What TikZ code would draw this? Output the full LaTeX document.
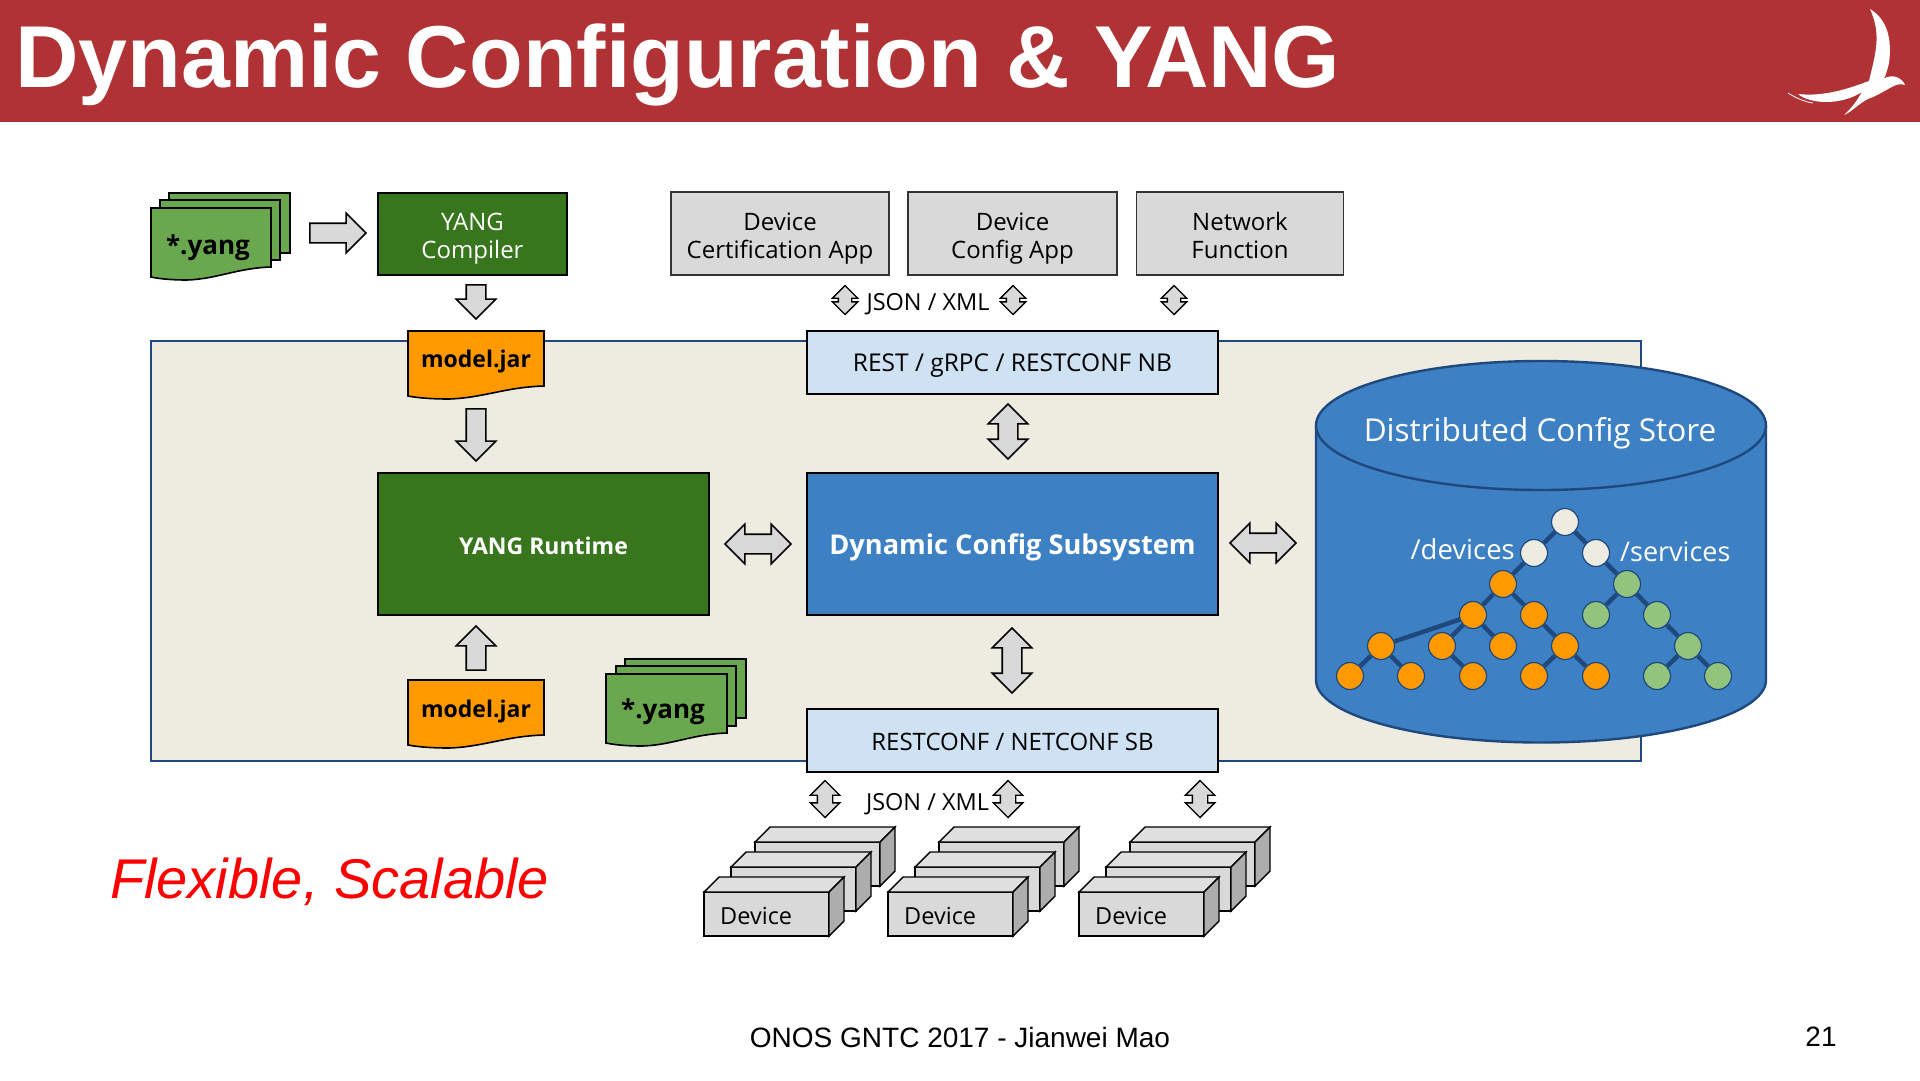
\documentclass[tikz,border=0pt]{standalone}
\usepackage{fontspec}
\setmainfont{Open Sans}
\newfontfamily\slidefont{Liberation Sans}
\usetikzlibrary{shapes.arrows}
\definecolor{headerred}{HTML}{B13234}
\definecolor{darkgreen}{HTML}{38761D}
\definecolor{filegreen}{HTML}{6AA84F}
\definecolor{leafgreen}{HTML}{93C47D}
\definecolor{jarorange}{HTML}{FF9900}
\definecolor{coreblue}{HTML}{3D80C4}
\definecolor{paleblue}{HTML}{CFE2F3}
\definecolor{beige}{HTML}{EEECE1}
\definecolor{navy}{HTML}{1F497D}
\definecolor{boxgray}{HTML}{D9D9D9}

\begin{document}
\begin{tikzpicture}[x=1pt,y=-1pt,
    sheet/.style={draw=black,line width=1.6pt,fill=filegreen},
    box/.style={draw=black,line width=1.4pt,inner sep=0pt,align=center,font=\fontsize{24}{28}\selectfont},
    filetext/.style={font=\fontsize{26}{32}\selectfont\bfseries},
    jartext/.style={font=\fontsize{23}{30}\selectfont\bfseries},
    plain/.style={font=\fontsize{23.5}{28}\selectfont},
    onearrow/.style={draw=black,fill=boxgray,line width=1.6pt,single arrow,inner xsep=0pt,inner ysep=9pt,
        single arrow head extend=10pt,minimum width=38pt},
    twoarrow/.style={draw=black,fill=boxgray,line width=1.6pt,double arrow,inner xsep=0pt,inner ysep=9pt,
        double arrow head extend=10pt,minimum width=38pt},
    tinyarrow/.style={draw=black,fill=boxgray,line width=1.4pt,double arrow,inner xsep=0pt,inner ysep=7pt,
        double arrow head extend=7pt,minimum width=28pt,minimum height=37pt},
    smallarrow/.style={tinyarrow,inner ysep=6pt,double arrow head extend=6pt,minimum width=23pt,minimum height=29pt},
    leaf/.style={circle,draw=navy,line width=1.2pt,inner sep=0pt,minimum size=27pt},
    pics/wavedoc/.style n args={2}{code={
        \draw[line width=1.6pt,pic actions] (0,0) -- (#1,0) -- (#1,#2)
            .. controls (0.72*#1,#2+1) and (0.55*#1,#2+12) .. (0.3*#1,#2+13)
            .. controls (0.18*#1,#2+13) and (0.08*#1,#2+12) .. (0,#2+10) -- cycle;
    }},
    pics/devicebox/.style={code={
        \draw[line width=1.4pt,fill=boxgray] (0,0) rectangle (125,44);
        \draw[line width=1.4pt,fill=boxgray!85!white] (0,0) -- (15,-15) -- (140,-15) -- (125,0) -- cycle;
        \draw[line width=1.4pt,fill=black!32] (125,0) -- (140,-15) -- (140,29) -- (125,44) -- cycle;
    }}]
    \useasboundingbox (0,0) rectangle (1920,1080);

    % header band and bird
    \fill[headerred] (0,0) rectangle (1920,122);
    \node[anchor=west,inner sep=0pt,text=white,font=\slidefont\fontsize{87.9}{100}\selectfont\bfseries] (title) at (15,65) {Dynamic Configuration \& YANG};
    \fill[white] (1870,9) .. controls (1888,20) and (1892,40) .. (1889,63)
        .. controls (1886,75) and (1884,80) .. (1883,79)
        .. controls (1893,73) and (1902,78) .. (1905,85)
        .. controls (1896,82) and (1892,88) .. (1873,97)
        .. controls (1862,100) and (1852,112) .. (1844,115)
        .. controls (1855,105) and (1858,98) .. (1862,92)
        .. controls (1840,106) and (1810,104) .. (1798,94)
        .. controls (1825,97) and (1850,88) .. (1869,81)
        .. controls (1875,55) and (1882,35) .. (1870,9) -- cycle;
    \draw[white,line width=0.8pt] (1788,93) .. controls (1796,98) and (1805,102) .. (1813,103);

    % platform background
    \draw[navy,line width=1.4pt,fill=beige] (151,341) rectangle (1641,761);

    % yang files and compiler
    \draw[sheet] (169,193) rectangle (290,253);
    \draw[sheet] (160,200) rectangle (280,260);
    \pic[fill=filegreen] (fileA) at (151,208) {wavedoc={120}{59}};
    \node[filetext] (fileAtext) at (208,248) {*.yang};
    \node[box,fill=darkgreen,minimum width=189pt,minimum height=82pt] (compiler) at (472.5,234) {};
    \node[text=white,align=center,font=\fontsize{24}{28}\selectfont] (compilertext) at (472.5,239) {YANG\\Compiler};
    \node[onearrow,minimum height=56pt] (fileAarrow) at (333,233) {};
    \node[onearrow,minimum height=34pt,rotate=-90] (compilerarrow) at (476,297) {};

    % apps
    \node[box,fill=boxgray,draw=black!80,minimum width=218pt,minimum height=83pt] (certapp) at (780,233.5) {};
    \node[align=center,font=\fontsize{24}{28}\selectfont] (certtext) at (780,238.5) {Device\\Certification App};
    \node[box,fill=boxgray,draw=black!80,minimum width=209pt,minimum height=83pt] (configapp) at (1012.5,233.5) {};
    \node[align=center,font=\fontsize{24}{28}\selectfont] (configtext) at (1012.5,238.5) {Device\\Config App};
    \node[box,fill=boxgray,draw=black!80,minimum width=207pt,minimum height=83pt] (netfunc) at (1240,233.5) {};
    \node[align=center,font=\fontsize{24}{28}\selectfont] (netfunctext) at (1240,235) {Network\\Function};
    \node[smallarrow,rotate=90] (apparrowA) at (845,300) {};
    \node[smallarrow,rotate=90] (apparrowB) at (1013,300) {};
    \node[smallarrow,rotate=90] (apparrowC) at (1174,300) {};
    \node[plain] (nbformat) at (928,304) {JSON / XML};

    % model jars
    \pic[fill=jarorange] (jarA) at (408,331) {wavedoc={136}{55}};
    \node[jartext] (jarAtext) at (476,362) {model.jar};
    \node[onearrow,minimum height=52pt,rotate=-90] (jararrowA) at (476,430) {};
    \node[box,fill=darkgreen,minimum width=331pt,minimum height=142pt] (runtime) at (543.5,544) {};
    \node[text=white,font=\fontsize{23}{30}\selectfont\bfseries] (runtimetext) at (543.5,546) {YANG Runtime};
    \node[onearrow,minimum height=44pt,rotate=90] (jararrowB) at (476,653) {};
    \pic[fill=jarorange] (jarB) at (408,680) {wavedoc={136}{55}};
    \node[jartext] (jarBtext) at (476,712) {model.jar};
    \draw[sheet] (625,659) rectangle (746,718);
    \draw[sheet] (616,666) rectangle (736,726);
    \pic[fill=filegreen] (fileB) at (606,674) {wavedoc={121}{59}};
    \node[filetext] (fileBtext) at (663,712) {*.yang};

    % subsystem
    \node[box,fill=paleblue,minimum width=411pt,minimum height=63pt] (restnb) at (1012.5,362.5) {};
    \node[font=\fontsize{24.5}{28}\selectfont] (restnbtext) at (1012.5,366) {REST / gRPC / RESTCONF NB};
    \node[box,fill=coreblue,minimum width=411pt,minimum height=142pt] (subsystem) at (1012.5,544) {};
    \node[text=white,font=\fontsize{27.2}{34}\selectfont\bfseries] (subsystemtext) at (1012.5,547) {Dynamic Config Subsystem};
    \node[box,fill=paleblue,minimum width=411pt,minimum height=63pt] (restsb) at (1012.5,740.5) {};
    \node[font=\fontsize{24}{28}\selectfont] (restsbtext) at (1012.5,742) {RESTCONF / NETCONF SB};
    \node[twoarrow,minimum height=55pt,rotate=90] (nbarrow) at (1008,431.5) {};
    \node[twoarrow,minimum height=65pt,rotate=90] (sbarrow) at (1012,660.5) {};
    \node[twoarrow,minimum height=66pt] (runtimearrow) at (758,544) {};
    \node[twoarrow,minimum height=66pt] (storearrow) at (1263,543) {};

    % config store
    \draw[navy,line width=2.4pt,fill=coreblue] (1316,425) -- (1316,680) arc[start angle=180,end angle=0,x radius=225,y radius=62.5] -- (1766,425);
    \draw[navy,line width=2.4pt,fill=coreblue] (1541,425.5) ellipse[x radius=225,y radius=64.5];
    \node[text=white,font=\fontsize{31.5}{38}\selectfont] (storetitle) at (1540,433) {Distributed Config Store};
    \node[text=white,font=\fontsize{27.5}{32}\selectfont,anchor=east,inner sep=0pt] (devpath) at (1515,549) {/devices};
    \node[text=white,font=\fontsize{27}{32}\selectfont,anchor=west,inner sep=0pt] (svcpath) at (1620,552) {/services};

    % tree
    \node[leaf,fill=beige] (root) at (1565,522) {};
    \node[leaf,fill=beige] (devices) at (1534,553) {};
    \node[leaf,fill=beige] (services) at (1596,553) {};
    \node[leaf,fill=jarorange] (oa) at (1503,584) {};
    \node[leaf,fill=jarorange] (ob) at (1473,615) {};
    \node[leaf,fill=jarorange] (oc) at (1534,615) {};
    \node[leaf,fill=jarorange] (od) at (1381,646) {};
    \node[leaf,fill=jarorange] (oe) at (1442,646) {};
    \node[leaf,fill=jarorange] (of) at (1503,646) {};
    \node[leaf,fill=jarorange] (og) at (1565,646) {};
    \node[leaf,fill=jarorange] (oh) at (1350,676) {};
    \node[leaf,fill=jarorange] (oi) at (1411,676) {};
    \node[leaf,fill=jarorange] (oj) at (1473,676) {};
    \node[leaf,fill=jarorange] (ok) at (1534,676) {};
    \node[leaf,fill=jarorange] (ol) at (1596,676) {};
    \node[leaf,fill=leafgreen] (ga) at (1627,584) {};
    \node[leaf,fill=leafgreen] (gb) at (1596,615) {};
    \node[leaf,fill=leafgreen] (gc) at (1657,615) {};
    \node[leaf,fill=leafgreen] (gd) at (1688,646) {};
    \node[leaf,fill=leafgreen] (ge) at (1657,676) {};
    \node[leaf,fill=leafgreen] (gf) at (1718,676) {};
    \draw[navy,line width=4.5pt] (root) -- (devices) (root) -- (services) (devices) -- (oa)
        (oa) -- (ob) (oa) -- (oc) (ob) -- (od) (ob) -- (oe) (ob) -- (of) (oc) -- (og)
        (od) -- (oh) (od) -- (oi) (oe) -- (oj) (og) -- (ok) (og) -- (ol)
        (services) -- (ga) (ga) -- (gb) (ga) -- (gc) (gc) -- (gd) (gd) -- (ge) (gd) -- (gf);

    % devices
    \node[tinyarrow,rotate=90] (sbarrowA) at (825,799) {};
    \node[tinyarrow,rotate=90] (sbarrowB) at (1008,799) {};
    \node[tinyarrow,rotate=90] (sbarrowC) at (1200,799) {};
    \node[plain] (sbformat) at (927.5,804) {JSON / XML};
    \pic (devAc) at (755,842) {devicebox};
    \pic (devAb) at (731,867) {devicebox};
    \pic (devAa) at (704,892) {devicebox};
    \node[plain,anchor=west,inner sep=0pt] (devAtext) at (720,916) {Device};
    \pic (devBc) at (939,842) {devicebox};
    \pic (devBb) at (915,867) {devicebox};
    \pic (devBa) at (888,892) {devicebox};
    \node[plain,anchor=west,inner sep=0pt] (devBtext) at (904,916) {Device};
    \pic (devCc) at (1130,842) {devicebox};
    \pic (devCb) at (1106,867) {devicebox};
    \pic (devCa) at (1079,892) {devicebox};
    \node[plain,anchor=west,inner sep=0pt] (devCtext) at (1095,916) {Device};

    % slide text
    \node[anchor=west,inner sep=0pt,text=red,font=\slidefont\fontsize{56}{66}\selectfont\itshape] (motto) at (110,882) {Flexible, Scalable};
    \node[inner sep=0pt,font=\slidefont\fontsize{28}{34}\selectfont] (footer) at (960,1037) {ONOS GNTC 2017 - Jianwei Mao};
    \node[inner sep=0pt,font=\slidefont\fontsize{28}{34}\selectfont] (pagenum) at (1821,1037) {21};
\end{tikzpicture}
\end{document}
